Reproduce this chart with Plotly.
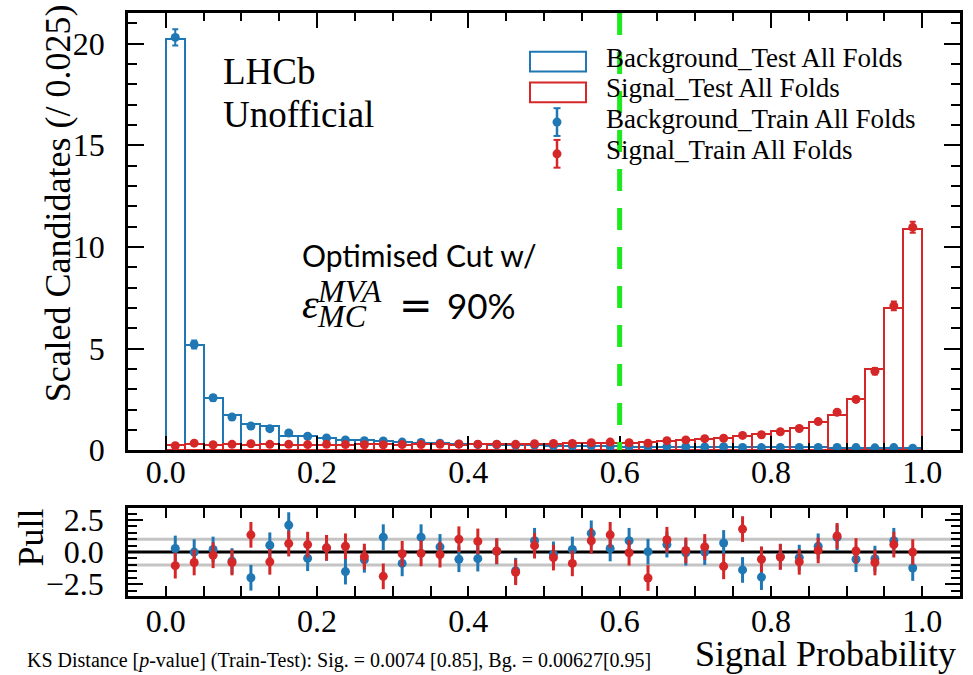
import numpy as np
import plotly.graph_objects as go

# ---------------------------------------------------------------- data
bin_width = 0.025
bin_centers = np.round(np.arange(0.0125, 1.0, bin_width), 4)

bkg_test = [20.20, 5.19, 2.55, 1.71, 1.30, 1.20, 0.68, 0.68, 0.58, 0.52,
            0.48, 0.44, 0.41, 0.37, 0.34, 0.31, 0.29, 0.27, 0.26, 0.24,
            0.22, 0.21, 0.20, 0.19, 0.18, 0.18, 0.17, 0.17, 0.16, 0.16,
            0.15, 0.15, 0.14, 0.14, 0.14, 0.13, 0.13, 0.12, 0.12, 0.11]
bkg_train = [20.30, 5.20, 2.58, 1.63, 1.19, 1.06, 0.85, 0.69, 0.60, 0.51,
             0.47, 0.46, 0.40, 0.38, 0.35, 0.30, 0.28, 0.27, 0.24, 0.25,
             0.22, 0.21, 0.22, 0.19, 0.19, 0.18, 0.18, 0.17, 0.16, 0.17,
             0.14, 0.13, 0.14, 0.14, 0.14, 0.14, 0.13, 0.12, 0.13, 0.10]
bkg_err = [0.40, 0.20, 0.14, 0.11, 0.10, 0.09, 0.08, 0.07, 0.07, 0.06,
           0.06, 0.06, 0.05, 0.05, 0.05, 0.05, 0.05, 0.04, 0.04, 0.04,
           0.04, 0.04, 0.04, 0.04, 0.04, 0.04, 0.04, 0.04, 0.03, 0.03,
           0.03, 0.03, 0.03, 0.03, 0.03, 0.03, 0.03, 0.03, 0.03, 0.03]

sig_test = [0.25, 0.30, 0.28, 0.30, 0.27, 0.30, 0.27, 0.26, 0.28, 0.27,
            0.29, 0.30, 0.28, 0.29, 0.30, 0.28, 0.29, 0.30, 0.31, 0.31,
            0.33, 0.34, 0.35, 0.36, 0.38, 0.41, 0.44, 0.49, 0.55, 0.62,
            0.70, 0.78, 0.93, 1.10, 1.38, 1.75, 2.52, 3.98, 7.00, 10.90]
sig_train = [0.22, 0.35, 0.27, 0.29, 0.32, 0.29, 0.29, 0.28, 0.29, 0.28,
             0.27, 0.27, 0.28, 0.28, 0.29, 0.31, 0.30, 0.30, 0.29, 0.32,
             0.33, 0.33, 0.37, 0.40, 0.37, 0.35, 0.47, 0.51, 0.57, 0.59,
             0.73, 0.76, 0.91, 1.07, 1.41, 1.87, 2.50, 3.89, 7.10, 10.96]
sig_err = [0.04, 0.05, 0.04, 0.04, 0.05, 0.04, 0.04, 0.04, 0.04, 0.04,
           0.04, 0.04, 0.04, 0.04, 0.04, 0.05, 0.05, 0.05, 0.05, 0.05,
           0.05, 0.05, 0.05, 0.05, 0.05, 0.05, 0.06, 0.06, 0.06, 0.07,
           0.07, 0.08, 0.08, 0.09, 0.10, 0.11, 0.13, 0.16, 0.22, 0.27]

bkg_pull = [0.28, 0.00, 0.20, -0.70, -2.00, 0.53, 2.10, -0.48, 0.33, -1.52,
            -0.60, 1.16, -0.88, 1.16, 0.40, -0.56, -0.51, 0.05, -1.45, 0.88,
            -0.18, 0.20, 1.46, 0.28, 0.88, 0.03, 0.58, -0.05, 0.00, 0.71,
            -1.39, -1.95, -0.35, -0.43, 0.45, 1.14, -0.56, -0.51, 0.88, -1.24]
sig_pull = [-1.06, -0.81, -0.25, -0.81, 1.34, -0.76, 0.66, 0.58, 0.33, 0.45,
            -0.35, -1.89, -0.13, -0.10, -0.20, 1.00, 0.83, 0.08, -1.57, 0.50,
            -0.43, -0.88, 0.88, 1.34, -0.05, -2.02, 0.96, 0.13, 0.40, -1.11,
            1.79, -0.56, -0.38, -0.76, 0.13, 1.26, 0.08, -0.81, 0.58, 0.00]
pull_err = 1.0

cut_value = 0.6
x_ticks = [0.0, 0.2, 0.4, 0.6, 0.8, 1.0]
y_ticks = [0, 5, 10, 15, 20]
pull_ticks = [-2.5, 0.0, 2.5]

legend_labels = ["Background_Test All Folds", "Signal_Test All Folds",
                 "Background_Train All Folds", "Signal_Train All Folds"]
ks_text = ("KS Distance [<i>p</i>-value] (Train-Test): Sig. = 0.0074 [0.85], "
           "Bg. = 0.00627[0.95]")

# ---------------------------------------------------------------- style
BLUE = "#1f77b4"
RED = "#d62728"
GREEN = "#1ee81e"
SERIF = "Liberation Serif"
SANS = "Lato"

W, H = 973, 675
ML, MR, MT, MB = 128, 13, 8, 79
PW, PH = W - ML - MR, H - MT - MB


def px_x(p):
    return (p - ML) / PW


def px_y(p):
    return 1 - (p - MT) / PH


fig = go.Figure()

# step-style histograms (test samples)
for vals, col in [(bkg_test, BLUE), (sig_test, RED)]:
    fig.add_trace(go.Bar(
        x=bin_centers, y=vals, width=bin_width,
        marker=dict(color="rgba(0,0,0,0)", line=dict(color=col, width=2)),
        xaxis="x", yaxis="y", hoverinfo="skip"))

# training samples as points with errors
for vals, errs, col in [(bkg_train, bkg_err, BLUE), (sig_train, sig_err, RED)]:
    fig.add_trace(go.Scatter(
        x=bin_centers, y=vals, mode="markers",
        marker=dict(color=col, size=9),
        error_y=dict(type="data", array=errs, color=col, thickness=2, width=3),
        xaxis="x", yaxis="y"))

# pull panel
for vals, col in [(bkg_pull, BLUE), (sig_pull, RED)]:
    fig.add_trace(go.Scatter(
        x=bin_centers, y=vals, mode="markers",
        marker=dict(color=col, size=9),
        error_y=dict(type="constant", value=pull_err, color=col,
                     thickness=3, width=0),
        xaxis="x2", yaxis="y2"))

tick_font = dict(family=SERIF, size=32, color="black")
common = dict(showline=True, linecolor="black", linewidth=2.5,
              mirror="allticks", ticks="inside", tickwidth=2,
              tickcolor="black", showgrid=False, zeroline=False,
              tickfont=tick_font)

fig.update_layout(
    width=W, height=H,
    margin=dict(l=ML, r=MR, t=MT, b=MB),
    paper_bgcolor="white", plot_bgcolor="white",
    showlegend=False, barmode="overlay", bargap=0,
    xaxis=dict(domain=[0, 1], anchor="y", range=[-0.05, 1.05],
               tickvals=x_ticks, tickformat=".1f", ticklen=15,
               ticklabelstandoff=-8,
               minor=dict(dtick=0.05, tick0=0, ticks="inside", ticklen=8,
                          tickwidth=2, tickcolor="black"), **common),
    yaxis=dict(domain=[px_y(449), 1], anchor="x", range=[0, 21.5],
               tickvals=y_ticks, ticklen=16, ticklabelstandoff=14,
               minor=dict(dtick=1, tick0=0, ticks="inside", ticklen=9,
                          tickwidth=2, tickcolor="black"), **common),
    xaxis2=dict(domain=[0, 1], anchor="y2", range=[-0.05, 1.05],
                tickvals=x_ticks, tickformat=".1f", ticklen=10,
                ticklabelstandoff=-5,
                minor=dict(dtick=0.05, tick0=0, ticks="inside", ticklen=10,
                           tickwidth=2, tickcolor="black"), **common),
    yaxis2=dict(domain=[0, px_y(507)], anchor="x2", range=[-3.42, 3.45],
                tickvals=pull_ticks, tickformat=".1f", ticklen=15,
                ticklabelstandoff=15,
                minor=dict(dtick=0.5, tick0=0, ticks="inside", ticklen=9,
                           tickwidth=2, tickcolor="black"), **common),
)

shapes = []
# reference lines in the pull panel
for yv, col in [(1, "#c4c4c4"), (-1, "#c4c4c4"), (0, "black")]:
    shapes.append(dict(type="line", xref="x2 domain", yref="y2",
                       x0=0, x1=1, y0=yv, y1=yv, layer="below",
                       line=dict(color=col, width=3)))
# optimised cut
shapes.append(dict(type="line", xref="x", yref="y", x0=cut_value,
                   x1=cut_value, y0=21.5, y1=0, layer="above",
                   line=dict(color=GREEN, width=5, dash="22px,17px")))

# legend glyphs
for (y0, y1), col in [((47, 67), BLUE), ((78, 98), RED)]:
    shapes.append(dict(type="rect", xref="paper", yref="paper",
                       x0=px_x(530), x1=px_x(586), y0=px_y(y1), y1=px_y(y0),
                       line=dict(color=col, width=2),
                       fillcolor="rgba(0,0,0,0)"))
for yc, col in [(118, BLUE), (150, RED)]:
    shapes.append(dict(type="line", xref="paper", yref="paper",
                       x0=px_x(557), x1=px_x(557),
                       y0=px_y(yc - 14), y1=px_y(yc + 14),
                       line=dict(color=col, width=2.5)))
    for yy in (yc - 14, yc + 14):
        shapes.append(dict(type="line", xref="paper", yref="paper",
                           x0=px_x(553.5), x1=px_x(560.5),
                           y0=px_y(yy), y1=px_y(yy),
                           line=dict(color=col, width=2)))
    shapes.append(dict(type="circle", xref="paper", yref="paper",
                       x0=px_x(552.5), x1=px_x(561.5),
                       y0=px_y(yc + 4.5), y1=px_y(yc - 4.5),
                       fillcolor=col, line=dict(color=col, width=0)))
fig.update_layout(shapes=shapes)

ann = []


def text(s, x, y, size, family=SERIF, xanchor="left", angle=0):
    ann.append(dict(text=s, x=px_x(x), y=px_y(y), xref="paper",
                    yref="paper", xanchor=xanchor, yanchor="middle",
                    textangle=angle, showarrow=False,
                    font=dict(family=family, size=size, color="black")))


for i, lab in enumerate(legend_labels):
    text(lab, 604, [53, 84, 115, 146][i], 27)

text("Scaled Candidates (/ 0.025)", 58, 200, 36, xanchor="center", angle=-90)
text("Pull", 31, 537, 36, xanchor="center", angle=-90)
text("Signal Probability", 958, 655, 36, xanchor="right")
text(ks_text, 25, 661, 20)
text("LHCb", 221, 67, 37)
text("Unofficial", 221, 110, 37)

text("Optimised Cut w/", 300, 252, 30, family=SANS)
text("<i>ε</i>", 300, 301, 42)
text("<i>MVA</i>", 315, 288, 32)
text("<i>MC</i>", 315, 314, 32)
text("=", 397, 302, 40, family="DejaVu Sans")
text("90%", 445, 302, 35, family=SANS)

fig.update_layout(annotations=ann)

fig.write_html("out.html")
